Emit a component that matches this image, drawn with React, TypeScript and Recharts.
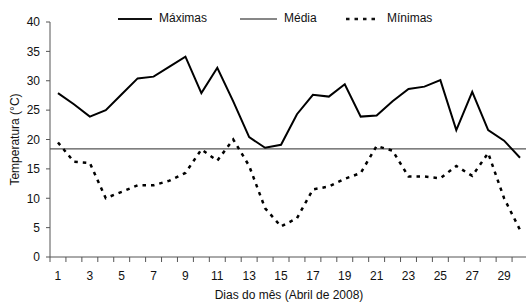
import React from "react";
import { LineChart, Line, XAxis, YAxis, ReferenceLine } from "recharts";

// Temperaturas diárias, Abril de 2008
const days = [1, 2, 3, 4, 5, 6, 7, 8, 9, 10, 11, 12, 13, 14, 15, 16, 17, 18, 19, 20, 21, 22, 23, 24, 25, 26, 27, 28, 29, 30];
const maximas = [27.9, 26.0, 23.9, 25.0, 27.7, 30.4, 30.7, 32.4, 34.1, 27.9, 32.2, 26.5, 20.4, 18.6, 19.1, 24.3, 27.6, 27.3, 29.4, 23.9, 24.1, 26.5, 28.6, 29.0, 30.1, 21.6, 28.1, 21.6, 19.8, 16.9];
const minimas = [19.5, 16.2, 16.0, 10.0, 11.1, 12.2, 12.2, 13.0, 14.3, 18.3, 16.4, 20.0, 15.5, 8.3, 5.2, 6.6, 11.5, 12.0, 13.3, 14.3, 18.9, 18.1, 13.7, 13.7, 13.4, 15.5, 13.8, 17.7, 10.0, 4.6];
const media = 18.4;

const dayLabels = [1, 3, 5, 7, 9, 11, 13, 15, 17, 19, 21, 23, 25, 27, 29];
const yTicks = [0, 5, 10, 15, 20, 25, 30, 35, 40];

const data = days.map((d, i) => ({ day: d, max: maximas[i], min: minimas[i] }));
// tick marks sit between the days, labels on odd days
const xTicks = [...days.map((d) => d - 0.5), days[days.length - 1] + 0.5, ...dayLabels];

const FONT = "'Liberation Sans', Arial, sans-serif";
const TEXT = "#111";
const AXIS = "#555";

// eslint-disable-next-line @typescript-eslint/no-explicit-any
const DayTick = ({ x, y, payload }: any) => {
  const v = payload.value;
  if (!Number.isInteger(v)) {
    return <line x1={x} y1={y - 5} x2={x} y2={y} stroke={AXIS} strokeWidth={1} />;
  }
  return (
    <text x={x} y={y} dy={18} textAnchor="middle" fontSize={12} fill={TEXT} fontFamily={FONT}>
      {v}
    </text>
  );
};

function LegendItem({ label, dash, width, left, len }: { label: string; dash?: string; width: number; left: number; len: number }) {
  return (
    <div style={{ position: "absolute", left, top: 0, display: "flex", alignItems: "center", whiteSpace: "nowrap" }}>
      <svg width={len + 2} height={6} style={{ marginRight: 5 }}>
        <line x1={0} y1={3} x2={len} y2={3} stroke="#111" strokeWidth={width} strokeDasharray={dash} />
      </svg>
      <span>{label}</span>
    </div>
  );
}

export default function App() {
  return (
    <div
      style={{
        position: "absolute",
        left: 0,
        top: 0,
        width: 526,
        height: 305,
        overflow: "hidden",
        background: "#fff",
        fontFamily: FONT,
      }}
    >
      <LineChart width={530} height={305} data={data} margin={{ top: 22, right: 2, left: 0, bottom: 0 }}>
        <XAxis
          dataKey="day"
          type="number"
          domain={[0.5, 30.5]}
          ticks={xTicks}
          interval={0}
          tick={<DayTick />}
          tickLine={false}
          tickSize={5}
          tickMargin={0}
          height={48}
          stroke={AXIS}
          label={{
            value: "Dias do mês (Abril de 2008)",
            position: "insideBottom",
            offset: 6,
            style: { fontSize: 12, fill: TEXT, fontFamily: FONT },
          }}
        />
        <YAxis
          domain={[0, 40]}
          ticks={yTicks}
          interval={0}
          width={50}
          tickSize={4}
          tickMargin={6}
          stroke={AXIS}
          tick={{ fontSize: 12, fill: TEXT, fontFamily: FONT }}
          label={{
            // eslint-disable-next-line @typescript-eslint/no-explicit-any
            content: ({ viewBox }: any) => {
              const cx = 15;
              const cy = viewBox.y + viewBox.height / 2;
              return (
                <text
                  x={cx}
                  y={cy}
                  transform={`rotate(-90 ${cx} ${cy})`}
                  textAnchor="middle"
                  dominantBaseline="central"
                  fontSize={12}
                  fill={TEXT}
                  fontFamily={FONT}
                >
                  Temperatura (°C)
                </text>
              );
            },
          }}
        />
        <ReferenceLine y={media} stroke={AXIS} strokeWidth={1.2} />
        <Line
          dataKey="max"
          stroke="#000"
          strokeWidth={2}
          dot={false}
          isAnimationActive={false}
        />
        <Line
          dataKey="min"
          stroke="#000"
          strokeWidth={2.5}
          strokeDasharray="3.5 5"
          dot={false}
          isAnimationActive={false}
        />
      </LineChart>
      <div
        style={{
          position: "absolute",
          top: 11,
          left: 0,
          width: 526,
          height: 16,
          fontSize: 12,
          color: TEXT,
          lineHeight: "15px",
        }}
      >
        <LegendItem label="Máximas" width={2} left={118} len={34} />
        <LegendItem label="Média" width={1.2} left={240} len={37} />
        <LegendItem label="Mínimas" width={2.5} dash="3.5 5" left={346} len={34} />
      </div>
    </div>
  );
}
